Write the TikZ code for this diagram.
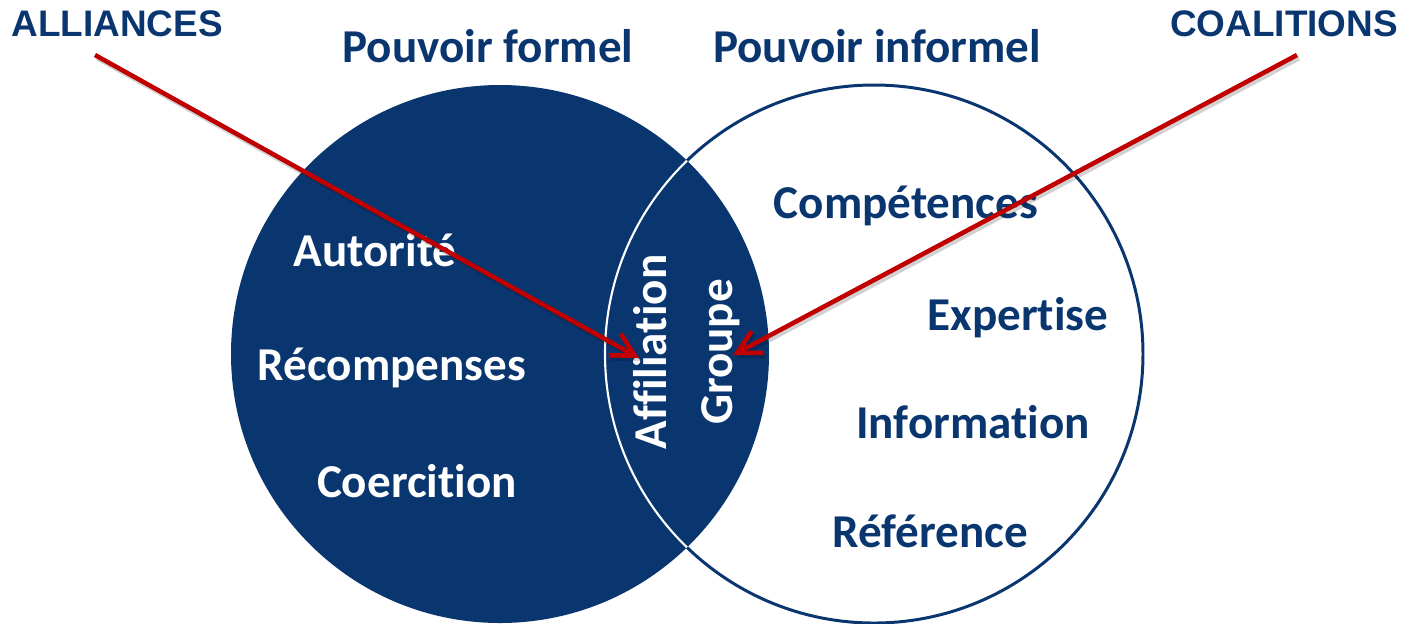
\documentclass[tikz,border=0pt]{standalone}
\usepackage{fontspec}
\setmainfont{Carlito}[Ligatures=NoCommon]
\newfontfamily\arialfont{Liberation Sans}
\usetikzlibrary{arrows.meta}
\definecolor{navy}{RGB}{10,54,112}
\definecolor{arrowred}{RGB}{192,0,0}

\begin{document}
\begin{tikzpicture}[x=0.01cm,y=-0.01cm,
    big/.style={font=\fontsize{13.4}{16}\selectfont\bfseries, anchor=base},
    inlbl/.style={big, text=white},
    outlbl/.style={big, text=navy},
    tag/.style={font=\arialfont\fontsize{10.5}{12}\selectfont\bfseries, text=navy, anchor=base},
    redarrow/.style={-{Straight Barb[length=6.5pt,width=7pt]}, line width=1.3pt, arrowred},
    shadowarrow/.style={redarrow, draw=black, opacity=0.18, transform canvas={xshift=0.6pt,yshift=-0.9pt}}]
\useasboundingbox (0,0) rectangle (1402,623);

\coordinate (formel) at (500,354);
\coordinate (informel) at (874,354);

\fill[navy] (formel) circle [radius=269];
\draw[navy, line width=0.85pt] (informel) circle [radius=269];
\begin{scope}
  \clip (formel) circle [radius=269];
  \draw[white, line width=0.6pt] (informel) circle [radius=269];
\end{scope}

\node[outlbl] (tformel) at (488,62) {Pouvoir formel};
\node[outlbl] (tinformel) at (877,62) {Pouvoir informel};
\node[tag] (alliances) at (117,36) {ALLIANCES};
\node[tag] (coalitions) at (1284,36) {COALITIONS};

\node[inlbl] (autorite) at (375,266) {Autorité};
\node[inlbl] (recomp) at (392,380) {Récompenses};
\node[inlbl] (coerc) at (417,497) {Coercition};
\node[font=\fontsize{13.4}{16}\selectfont\bfseries, text=white, rotate=90] (affil) at (650,352) {Affiliation};
\node[font=\fontsize{13.4}{16}\selectfont\bfseries, text=white, rotate=90] (groupe) at (721,352) {Groupe};

\node[outlbl] (compet) at (906,218) {Compétences};
\node[outlbl] (expert) at (1018,330) {Expertise};
\node[outlbl] (inform) at (973,438) {Information};
\node[outlbl] (refer) at (930,547) {Référence};

\coordinate (allstart) at (95,55);
\coordinate (alltip) at (639,358);
\coordinate (coastart) at (1297,55);
\coordinate (coatip) at (733,355);

\draw[shadowarrow] (allstart) -- (alltip);
\draw[shadowarrow] (coastart) -- (coatip);
\draw[redarrow] (allstart) -- (alltip);
\draw[redarrow] (coastart) -- (coatip);
\end{tikzpicture}
\end{document}
